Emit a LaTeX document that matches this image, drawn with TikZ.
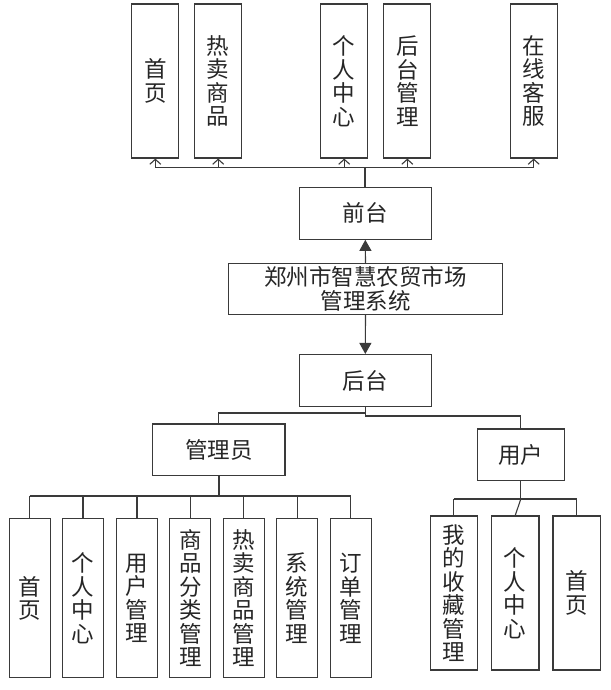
\documentclass[tikz,border=0pt]{standalone}
\usepackage{fontspec}
\setmainfont{Noto Sans CJK SC}
\usetikzlibrary{arrows.meta}
\definecolor{linec}{HTML}{3A3A3A}
\begin{document}
\begin{tikzpicture}[x=1pt,y=-1pt,
  box/.style={draw=linec, line width=1.1pt, inner sep=0pt, align=center,
    font=\fontsize{22.5}{23.5}\selectfont, text=black!85},
  tallbox/.style={box, minimum width=47pt, minimum height=154pt},
  admbox/.style={box, minimum width=41pt, minimum height=159pt},
  usrbox/.style={box, minimum width=47.5pt, minimum height=154pt},
  wide/.style={box, minimum width=132pt, minimum height=52pt},
  conn/.style={draw=linec, line width=1.1pt},
  stem/.style={draw=linec, line width=2pt},
  barb/.style={conn, -{Straight Barb[length=5pt,width=11pt]}},
  tri/.style={conn, -{Triangle[length=11pt,width=12pt]}}]
\useasboundingbox[fill=white] (0,0) rectangle (610,690);

% top row
\node[tallbox] (t1) at (155.3,81) {首\\页};
\node[tallbox] (t2) at (218.2,81) {热\\卖\\商\\品};
\node[tallbox] (t3) at (344.2,81) {个\\人\\中\\心};
\node[tallbox] (t4) at (407.3,81) {后\\台\\管\\理};
\node[tallbox] (t5) at (533.7,81) {在\\线\\客\\服};

% middle
\node[wide] (front) at (365.3,213.3) {前台};
\node[box, minimum width=274.7pt, minimum height=51pt] (sys) at (365.5,288.8) {郑州市智慧农贸市场\\管理系统};
\node[wide] (back) at (365.3,380.5) {后台};
\node[box, minimum width=132.3pt, minimum height=51.7pt] (admin) at (218.8,449.8) {管理员};
\node[box, minimum width=87pt, minimum height=51.7pt] (user) at (520.8,454.8) {用户};

% admin row
\node[admbox] (a1) at (29.7,598.2) {首\\页};
\node[admbox] (a2) at (83,598.2) {个\\人\\中\\心};
\node[admbox] (a3) at (137,598.2) {用\\户\\管\\理};
\node[admbox] (a4) at (190.3,598.2) {商\\品\\分\\类\\管\\理};
\node[admbox] (a5) at (243.8,598.2) {热\\卖\\商\\品\\管\\理};
\node[admbox] (a6) at (297.2,598.2) {系\\统\\管\\理};
\node[admbox] (a7) at (350.8,598.2) {订\\单\\管\\理};

% user row
\node[usrbox] (u1) at (453.8,593) {我\\的\\收\\藏\\管\\理};
\node[usrbox] (u2) at (515.2,593) {个\\人\\中\\心};
\node[usrbox] (u3) at (576.7,593) {首\\页};

% bus coordinates
\coordinate (topbus) at (365,167.7);
\coordinate (lbus) at (0,413);
\coordinate (rbus) at (0,416);
\coordinate (abus) at (0,496);
\coordinate (ubus) at (0,499);

% top connectors
\draw[stem] (front.north) -- (front.north |- topbus);
\draw[conn] (t1.south |- topbus) -- (t5.south |- topbus);
\foreach \n in {t1,t2,t3,t4,t5}
  \draw[barb] (\n.south |- topbus) -- (\n.south);

% system arrows
\draw[tri] (sys.north) -- (front.south);
\draw[tri] (sys.south) -- (back.north);

% from back
\draw[conn] (back.south) -- (back.south |- rbus);
\draw[conn] (back.south |- lbus) -- (admin.north |- lbus) -- (admin.north);
\draw[conn] (back.south |- rbus) -- (user.north |- rbus) -- (user.north);

% admin connectors
\draw[stem] (admin.south) -- (admin.south |- abus);
\draw[conn] (a1.north |- abus) -- (a7.north |- abus);
\foreach \n in {a1,a2,a3,a4,a5,a6,a7}
  \draw[conn] (\n.north |- abus) -- (\n.north);

% user connectors
\draw[conn] (user.south) -- (user.south |- ubus);
\draw[conn] (u1.north |- ubus) -- (u3.north |- ubus);
\draw[conn] (u1.north |- ubus) -- (u1.north);
\draw[conn] (user.south |- ubus) -- (u2.north);
\draw[conn] (u3.north |- ubus) -- (u3.north);
\end{tikzpicture}
\end{document}
